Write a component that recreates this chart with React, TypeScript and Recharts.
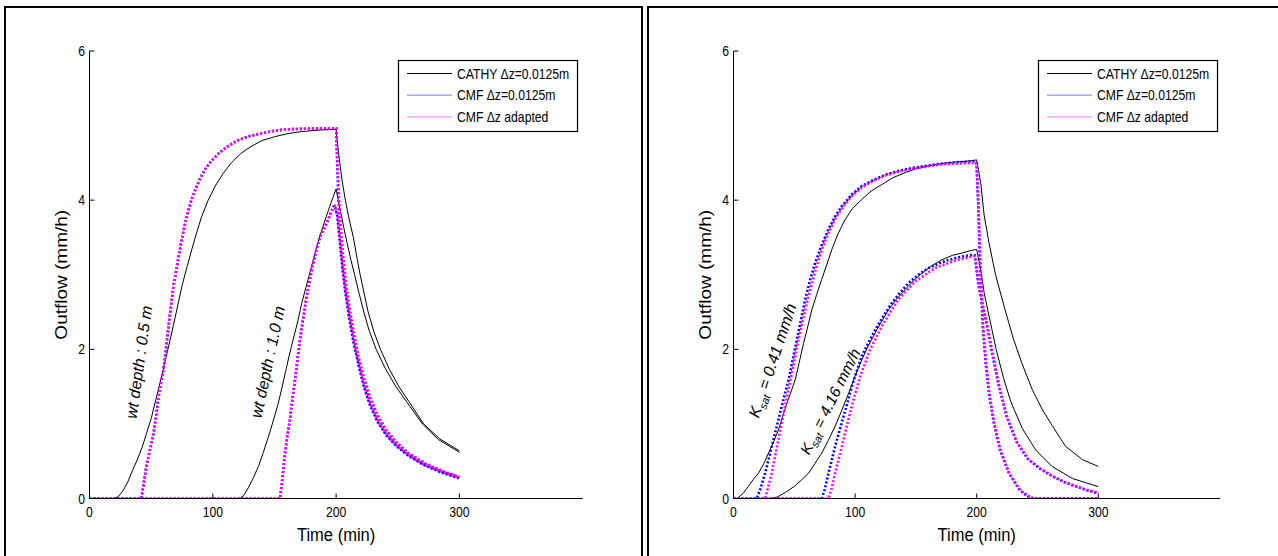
import React from 'react';
import { LineChart, Line, XAxis, YAxis, Legend, ReferenceDot, Label } from 'recharts';

type P = [number, number];

// ---------- axes / labels ----------
const X_TICKS = [0, 100, 200, 300];
const Y_TICKS = [0, 2, 4, 6];
const X_DOMAIN: [number, number] = [0, 400];
const Y_DOMAIN: [number, number] = [0, 6];
const X_LABEL = 'Time (min)';
const Y_LABEL = 'Outflow (mm/h)';
const SERIES_NAMES = ['CATHY \u0394z=0.0125m', 'CMF \u0394z=0.0125m', 'CMF \u0394z adapted'];

// ---------- left panel: water-table depth ----------
const wtCathy05: P[] = [
  [0, 0], [20, 0], [23, 0.02], [27, 0.1], [31, 0.22], [35, 0.38], [39, 0.53], [43, 0.7], [46, 0.86],
  [50, 1.07], [54, 1.34], [58, 1.6], [61, 1.82], [65, 2.1], [68, 2.32], [72, 2.62], [75, 2.85],
  [79, 3.1], [83, 3.34], [87, 3.57], [91, 3.78], [96, 3.99], [102, 4.19], [108, 4.35], [115, 4.5],
  [123, 4.63], [131, 4.72], [140, 4.8], [150, 4.85], [160, 4.89], [172, 4.92], [186, 4.94], [200, 4.95],
  [201.5, 4.7], [203, 4.5], [205, 4.25], [207.5, 4.0], [210.5, 3.75], [214, 3.5], [217, 3.22], [219.5, 3.0],
  [223, 2.73], [226, 2.5], [231, 2.22], [236, 2.0], [243, 1.74], [251, 1.5], [259, 1.3], [271, 1.0],
  [284, 0.8], [300, 0.64],
];
const wtCathy10: P[] = [
  [0, 0], [122, 0], [125, 0.04], [129, 0.15], [133, 0.28], [137, 0.43], [141, 0.62], [145, 0.82],
  [149, 1.04], [153, 1.27], [156, 1.48], [159, 1.7], [162, 1.92], [165, 2.12], [169, 2.38], [172, 2.61],
  [176, 2.86], [180, 3.11], [184, 3.36], [188, 3.58], [192, 3.78], [196, 3.97], [200, 4.15],
  [201.5, 4.02], [203.5, 3.85], [206, 3.65], [209, 3.42], [212, 3.2], [215, 3.0], [218.5, 2.76], [222.5, 2.5],
  [227, 2.24], [232.5, 2.0], [240, 1.74], [248.5, 1.5], [257.5, 1.29], [270, 1.0], [283, 0.79], [300, 0.62],
];
const wtCmf05: P[] = [
  [0, 0], [42, 0], [44, 0.2], [46, 0.42], [49, 0.65], [52, 0.88], [54, 1.1], [56, 1.36], [58, 1.55],
  [60, 1.73], [62, 2.0], [64, 2.3], [66, 2.57], [68, 2.84], [71, 3.12], [74, 3.4], [77, 3.65], [80, 3.85],
  [83, 4.02], [86, 4.15], [90, 4.3], [94, 4.42], [99, 4.53], [105, 4.63], [112, 4.72], [120, 4.8],
  [130, 4.86], [140, 4.9], [150, 4.93], [160, 4.95], [180, 4.96], [200, 4.96],
  [201, 4.45], [202, 4.0], [203.5, 3.6], [205.5, 3.2], [208, 2.82], [211, 2.5], [214, 2.2], [218, 1.88],
  [222, 1.62], [227, 1.36], [233, 1.12], [240, 0.92], [248, 0.76], [258, 0.61], [272, 0.46], [286, 0.36],
  [300, 0.28],
];
const wtCmfAd05: P[] = [
  [0, 0], [42, 0], [44, 0.2], [46, 0.42], [49, 0.65], [52, 0.88], [54, 1.1], [56, 1.36], [58, 1.55],
  [60, 1.73], [62, 2.0], [64, 2.3], [66, 2.57], [68, 2.84], [71, 3.12], [74, 3.4], [77, 3.65], [80, 3.85],
  [83, 4.02], [86, 4.15], [90, 4.3], [94, 4.42], [99, 4.53], [105, 4.63], [112, 4.72], [120, 4.8],
  [130, 4.86], [140, 4.9], [150, 4.93], [160, 4.95], [180, 4.96], [200, 4.96],
  [201.3, 4.45], [202.4, 4.0], [203.9, 3.6], [206, 3.2], [208.5, 2.82], [211.5, 2.5], [214.5, 2.2], [218.5, 1.88],
  [222.6, 1.62], [227.6, 1.36], [233.6, 1.12], [240.7, 0.92], [248.7, 0.76], [258.7, 0.61], [272.6, 0.47],
  [286.5, 0.37], [300, 0.29],
];
const wtCmf10: P[] = [
  [0, 0], [154.5, 0], [156, 0.2], [158.5, 0.6], [160.5, 0.85], [162.5, 1.05], [164.5, 1.32], [166.6, 1.58],
  [168.6, 1.85], [170.6, 2.12], [173, 2.38], [176, 2.7], [178.7, 2.93], [181.4, 3.15], [184, 3.33],
  [186.9, 3.51], [189.6, 3.6], [192.3, 3.69], [195, 3.8], [197.7, 3.91], [199, 3.93],
  [201, 3.78], [203, 3.45], [205, 3.1], [207.5, 2.76], [210.5, 2.43], [214, 2.1], [218, 1.8], [222.5, 1.5],
  [227.5, 1.25], [233.5, 1.03], [241, 0.84], [249, 0.7], [258, 0.58], [270, 0.46], [285, 0.35], [300, 0.27],
];
const wtCmfAd10: P[] = [
  [0, 0], [154.5, 0], [156, 0.2], [158.5, 0.6], [160.5, 0.85], [162.5, 1.05], [164.5, 1.32], [166.6, 1.58],
  [168.6, 1.85], [170.6, 2.12], [173, 2.38], [176, 2.7], [178.7, 2.93], [181.4, 3.15], [184, 3.33],
  [186.9, 3.51], [189.6, 3.6], [192.3, 3.69], [195, 3.8], [197.7, 3.9], [199, 3.92],
  [201.3, 3.78], [203.4, 3.45], [205.4, 3.1], [208, 2.76], [211, 2.43], [214.5, 2.1], [218.6, 1.8], [223.1, 1.5],
  [228.1, 1.25], [234.2, 1.03], [241.7, 0.84], [249.7, 0.7], [258.7, 0.58], [270.6, 0.46], [285.5, 0.36],
  [300, 0.28],
];

// ---------- right panel: saturated conductivity ----------
const ksCathy041: P[] = [
  [0, 0], [3, 0], [8, 0.07], [12.3, 0.165], [16, 0.25], [20.6, 0.34], [25, 0.47], [28.8, 0.61], [33, 0.76],
  [37, 0.92], [40.5, 1.1], [43.9, 1.28], [47.3, 1.43], [50.7, 1.59], [54, 1.82], [57.6, 2.08], [61, 2.3],
  [64.4, 2.53], [68.5, 2.74], [72.6, 2.94], [76.8, 3.14], [80.9, 3.34], [86, 3.55], [91.8, 3.74], [98, 3.89],
  [105.5, 4.01], [113, 4.12], [122, 4.21], [131, 4.3], [141.2, 4.37], [150, 4.42], [160.4, 4.46],
  [171, 4.49], [182.3, 4.51], [190, 4.52], [196, 4.53], [200, 4.54],
  [201.5, 4.4], [203.4, 4.22], [206.1, 3.8], [210.2, 3.42], [215.5, 3.0], [223, 2.55], [230, 2.15],
  [237, 1.82], [245.7, 1.46], [254, 1.19], [262, 0.98], [273, 0.7], [287, 0.52], [300, 0.43],
];
const ksCathy416: P[] = [
  [0, 0], [30, 0], [36, 0.02], [42.5, 0.08], [50.7, 0.17], [56, 0.25], [61.7, 0.34], [67, 0.47], [72.6, 0.61],
  [78, 0.78], [83.6, 0.97], [89, 1.18], [94.6, 1.41], [100, 1.64], [105.5, 1.86], [111, 2.05], [116.5, 2.22],
  [122, 2.38], [127.5, 2.53], [134, 2.67], [141.2, 2.8], [148, 2.92], [154.9, 3.02], [163, 3.12],
  [171.3, 3.2], [180, 3.26], [187.8, 3.29], [194, 3.32], [200, 3.34],
  [203.4, 3.06], [206.1, 2.76], [210, 2.46], [216, 2.0], [222, 1.62], [228, 1.3], [237.5, 0.94],
  [248.5, 0.65], [262, 0.43], [278.5, 0.27], [290, 0.21], [300, 0.16],
];
const ksCmf041: P[] = [
  [0, 0], [19, 0], [22, 0.12], [26, 0.34], [28.8, 0.52], [31.5, 0.7], [35, 0.93], [38.4, 1.15], [41.8, 1.37],
  [45.3, 1.59], [48.7, 1.86], [52.1, 2.13], [55.5, 2.4], [59, 2.67], [63, 2.93], [67.2, 3.16], [72.6, 3.4],
  [78.1, 3.61], [83.5, 3.78], [89.1, 3.92], [97, 4.07], [105.5, 4.19], [115, 4.27], [124.7, 4.34],
  [135, 4.39], [146.6, 4.43], [158, 4.46], [171.3, 4.49], [185, 4.51], [199, 4.52],
  [199.8, 4.49], [201.2, 3.98], [202.4, 3.3], [203.7, 2.8], [205, 2.3], [207.5, 1.8], [210.2, 1.4],
  [214, 1.02], [219.2, 0.65], [226.5, 0.34], [235.5, 0.11], [242, 0.03], [247, 0], [300, 0],
];
const ksCmfAd041: P[] = [
  [0, 0], [26, 0], [28, 0.12], [31.5, 0.34], [34, 0.55], [37, 0.79], [39.8, 1.02], [42.5, 1.24], [45.2, 1.46],
  [48, 1.68], [50.8, 1.91], [53.5, 2.13], [56.9, 2.38], [60.3, 2.62], [64.4, 2.88], [68.5, 3.12], [73, 3.35],
  [78.1, 3.56], [84, 3.76], [90.5, 3.92], [97, 4.05], [105.5, 4.17], [115, 4.26], [124.7, 4.33],
  [135, 4.38], [146.6, 4.42], [158, 4.45], [171.3, 4.48], [185, 4.49], [199, 4.5],
  [200, 4.48], [201.4, 3.97], [202.7, 3.3], [204, 2.8], [205.3, 2.3], [207.8, 1.8], [210.5, 1.4],
  [214.3, 1.02], [219.5, 0.65], [226.8, 0.34], [235.8, 0.11], [242.3, 0.03], [247.3, 0], [300, 0],
];
const ksCmf416: P[] = [
  [0, 0], [72.6, 0], [75, 0.12], [78.1, 0.34], [80.9, 0.52], [83.6, 0.7], [87, 0.9], [90.5, 1.1], [94, 1.3],
  [97.3, 1.5], [101.4, 1.71], [105.5, 1.91], [111, 2.09], [116.5, 2.26], [123.4, 2.45], [130.2, 2.62],
  [137, 2.76], [143.9, 2.89], [152, 3.0], [160.4, 3.09], [168.7, 3.15], [176.9, 3.2], [187, 3.24], [197.4, 3.27],
  [198.4, 3.26], [201.2, 2.89], [203.9, 2.66], [208.1, 2.35], [212.2, 1.99], [217.8, 1.54], [224.6, 1.1],
  [232.8, 0.76], [242, 0.53], [252, 0.4], [262, 0.3], [272, 0.22], [282, 0.16], [291, 0.11], [300, 0.07],
];
const ksCmfAd416: P[] = [
  [0, 0], [78.1, 0], [80.5, 0.12], [83.6, 0.34], [87, 0.56], [90.5, 0.79], [93.9, 1.02], [97.3, 1.24],
  [100.7, 1.44], [104.2, 1.64], [108.3, 1.82], [112.4, 2.0], [118, 2.18], [123.4, 2.35], [129.5, 2.51],
  [135.7, 2.67], [142.5, 2.79], [149.4, 2.91], [157.6, 3.0], [165.9, 3.09], [174, 3.14], [182.3, 3.19],
  [190, 3.22], [198.2, 3.25],
  [199, 3.22], [201.6, 2.88], [204.3, 2.65], [208.5, 2.34], [212.6, 1.98], [218.2, 1.53], [225, 1.09],
  [233.2, 0.75], [242.4, 0.53], [252.4, 0.4], [262.4, 0.3], [272.4, 0.22], [282.4, 0.16], [291.4, 0.11],
  [300, 0.08],
];

// ---------- annotation texts ----------
const WT_NOTES = ['wt depth : 0.5 m', 'wt depth : 1.0 m'];
const KS_NOTES = ['0.41 mm/h', '4.16 mm/h'];

// ---------- styling ----------
const FONT = '"Liberation Sans", Arial, Helvetica, sans-serif';
const SQ = 0.87; // horizontal squeeze of the original figure's text
const COLORS = ['#000000', '#0000ff', '#ff00ff'];
const LEGEND_COLORS = ['#000000', '#8f8fff', '#ff8fff'];

type Series = { key: string; pts: P[]; kind: number };

const rows = (pts: P[]) => pts.map(([t, v]) => ({ t, v }));

const XTick = (props: any) => {
  const { x, y, payload } = props;
  return (
    <g transform={`translate(${x},${y})`}>
      <text transform={`scale(${SQ},1)`} textAnchor="middle" dy="0.72em" fontSize={14} fill="#000" fontFamily={FONT}>
        {payload.value}
      </text>
    </g>
  );
};
const YTick = (props: any) => {
  const { x, y, payload } = props;
  return (
    <g transform={`translate(${x},${y})`}>
      <text transform={`scale(${SQ},1)`} textAnchor="end" dy="0.36em" fontSize={14} fill="#000" fontFamily={FONT}>
        {payload.value}
      </text>
    </g>
  );
};

const LegendBox = () => (
  <svg width={180} height={72} style={{ display: 'block', overflow: 'visible' }}>
    <rect x={0.5} y={0.5} width={179} height={71} fill="#fff" stroke="#000" strokeWidth={1.2} />
    {SERIES_NAMES.map((n, i) => {
      const yy = 13.5 + i * 21.7;
      return (
        <g key={n}>
          <line x1={9} x2={54} y1={yy} y2={yy} stroke={LEGEND_COLORS[i]} strokeWidth={1.2} />
          <g transform={`translate(59,${yy})`}>
            <text transform={`scale(${SQ},1)`} dy="0.36em" fontSize={14} fill="#000" fontFamily={FONT}>
              {n}
            </text>
          </g>
        </g>
      );
    })}
  </svg>
);

const RotText = ({ cx, cy, angle, size, children }: any) => (
  <g transform={`translate(${cx},${cy}) rotate(${-angle})`}>
    <text textAnchor="middle" dy="0.35em" fontSize={size} fontStyle="italic" fill="#000" fontFamily={FONT}>
      {children}
    </text>
  </g>
);

type Note = { x: number; y: number; angle: number; size: number; content: React.ReactNode };

function Panel({ left, axisX, plotW, series, notes }: { left: number; axisX: number; plotW: number; series: Series[]; notes: Note[] }) {
  const W = 640;
  const H = 556;
  const top = 51;
  const axisY = 498.5;
  const yAxisW = 40;
  const xAxisH = 30;
  return (
    <div style={{ position: 'absolute', left, top: 0, width: W, height: H }}>
      <LineChart
        width={W}
        height={H}
        margin={{ top, left: axisX - yAxisW, right: W - axisX - plotW, bottom: H - axisY - xAxisH }}
      >
        <XAxis
          dataKey="t"
          type="number"
          domain={X_DOMAIN}
          ticks={X_TICKS}
          allowDataOverflow
          height={xAxisH}
          axisLine={{ stroke: '#000', strokeWidth: 1 }}
          tickLine={{ stroke: '#000', strokeWidth: 1 }}
          tickSize={-5}
          tickMargin={13.5}
          tick={<XTick />}
          interval={0}
        >
          <Label
            content={(p: any) => {
              const vb = p.viewBox || {};
              return (
                <g transform={`translate(${vb.x + vb.width / 2},${vb.y + 42.5})`}>
                  <text transform={`scale(${SQ},1)`} textAnchor="middle" fontSize={19} fill="#000" fontFamily={FONT}>
                    {X_LABEL}
                  </text>
                </g>
              );
            }}
          />
        </XAxis>
        <YAxis
          type="number"
          domain={Y_DOMAIN}
          ticks={Y_TICKS}
          allowDataOverflow
          width={yAxisW}
          axisLine={{ stroke: '#000', strokeWidth: 1 }}
          tickLine={{ stroke: '#000', strokeWidth: 1 }}
          tickSize={-5}
          tickMargin={9.5}
          tick={<YTick />}
          interval={0}
        >
          <Label
            content={(p: any) => {
              const vb = p.viewBox || {};
              return (
                <g transform={`translate(${vb.x + vb.width - 28.5},${vb.y + vb.height / 2}) scale(${SQ},1) rotate(-90)`}>
                  <text textAnchor="middle" dy="0.35em" fontSize={19} fill="#000" fontFamily={FONT}>
                    {Y_LABEL}
                  </text>
                </g>
              );
            }}
          />
        </YAxis>
        {series.map((s) => (
          <Line
            key={s.key}
            name={s.key}
            data={rows(s.pts)}
            dataKey="v"
            type="linear"
            stroke={COLORS[s.kind]}
            strokeWidth={s.kind === 0 ? 1 : 2.6}
            strokeDasharray={s.kind === 0 ? undefined : '2 2'}
            dot={false}
            activeDot={false}
            isAnimationActive={false}
            legendType="none"
          />
        ))}
        {notes.map((n, i) => (
          <ReferenceDot
            key={i}
            x={n.x}
            y={n.y}
            r={1}
            ifOverflow="visible"
            shape={(p: any) => (
              <RotText cx={p.cx} cy={p.cy} angle={n.angle} size={n.size}>
                {n.content}
              </RotText>
            )}
          />
        ))}
        <Legend
          layout="horizontal"
          verticalAlign="middle"
          align="center"
          content={() => <LegendBox />}
          wrapperStyle={{ position: 'absolute', left: axisX + plotW * 0.6255, top: 60, width: 180, height: 72 }}
        />
      </LineChart>
    </div>
  );
}

const leftSeries: Series[] = [
  { key: 'c05', pts: wtCathy05, kind: 0 },
  { key: 'c10', pts: wtCathy10, kind: 0 },
  { key: 'm05', pts: wtCmf05, kind: 1 },
  { key: 'm10', pts: wtCmf10, kind: 1 },
  { key: 'a05', pts: wtCmfAd05, kind: 2 },
  { key: 'a10', pts: wtCmfAd10, kind: 2 },
];
const rightSeries: Series[] = [
  { key: 'c041', pts: ksCathy041, kind: 0 },
  { key: 'c416', pts: ksCathy416, kind: 0 },
  { key: 'm041', pts: ksCmf041, kind: 1 },
  { key: 'm416', pts: ksCmf416, kind: 1 },
  { key: 'a041', pts: ksCmfAd041, kind: 2 },
  { key: 'a416', pts: ksCmfAd416, kind: 2 },
];

const ksContent = (val: string) => (
  <>
    <tspan>K</tspan>
    <tspan dy={4} fontSize={11}>sat</tspan>
    <tspan dy={-4}>{' = ' + val}</tspan>
  </>
);

const leftNotes: Note[] = [
  { x: 40, y: 1.83, angle: 82, size: 16, content: WT_NOTES[0] },
  { x: 144.5, y: 1.83, angle: 78, size: 16, content: WT_NOTES[1] },
];
const rightNotes: Note[] = [
  { x: 32, y: 1.85, angle: 71.5, size: 16, content: ksContent(KS_NOTES[0]) },
  { x: 79.5, y: 1.3, angle: 63.5, size: 15.5, content: ksContent(KS_NOTES[1]) },
];

export default function App() {
  return (
    <div style={{ position: 'absolute', left: 0, top: 0, width: 1278, height: 556, background: '#fff', overflow: 'hidden' }}>
      <div style={{ position: 'absolute', left: 4, top: 6, width: 639, height: 600, border: '2px solid #000', boxSizing: 'border-box' }} />
      <div style={{ position: 'absolute', left: 647, top: 6, width: 700, height: 600, border: '2px solid #000', boxSizing: 'border-box' }} />
      <Panel left={0} axisX={89.5} plotW={493.2} series={leftSeries} notes={leftNotes} />
      <Panel left={640} axisX={93.5} plotW={486.4} series={rightSeries} notes={rightNotes} />
    </div>
  );
}
